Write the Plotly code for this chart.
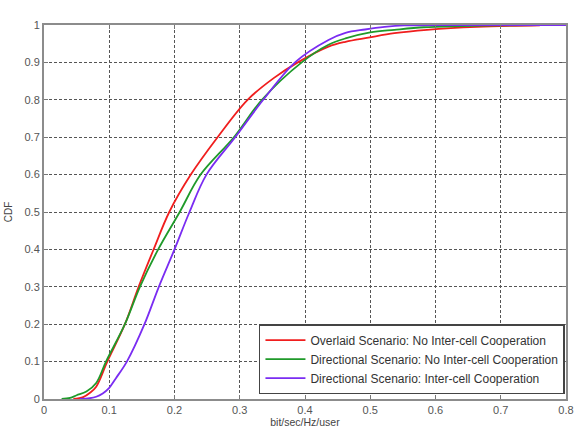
import plotly.graph_objects as go

# Overlaid Scenario: No Inter-cell Cooperation
red_x = [0.045, 0.06, 0.07, 0.08, 0.097, 0.124, 0.145, 0.168, 0.192, 0.225, 0.266,
         0.312, 0.352, 0.389, 0.436, 0.462, 0.497, 0.537, 0.587, 0.663, 0.76]
red_y = [0.0, 0.005, 0.016, 0.033, 0.1, 0.2, 0.3, 0.4, 0.5, 0.6, 0.7,
         0.8, 0.858, 0.9, 0.942, 0.955, 0.966, 0.978, 0.987, 0.995, 0.999]

# Directional Scenario: No Inter-cell Cooperation
green_x = [0.027, 0.04, 0.05, 0.065, 0.08, 0.095, 0.124, 0.147, 0.175, 0.208, 0.240,
           0.291, 0.334, 0.395, 0.436, 0.462, 0.5, 0.537, 0.582, 0.642, 0.7, 0.76]
green_y = [0.0, 0.003, 0.01, 0.02, 0.043, 0.1, 0.2, 0.3, 0.4, 0.5, 0.6,
           0.7, 0.8, 0.9, 0.947, 0.964, 0.98, 0.987, 0.994, 0.997, 0.999, 1.0]

# Directional Scenario: Inter-cell Cooperation
purple_x = [0.055, 0.07, 0.08, 0.09, 0.1, 0.11, 0.127, 0.154, 0.176, 0.2, 0.223,
            0.249, 0.293, 0.336, 0.386, 0.436, 0.462, 0.492, 0.522, 0.552, 0.65, 0.8]
purple_y = [0.0, 0.002, 0.006, 0.015, 0.03, 0.055, 0.1, 0.2, 0.3, 0.4, 0.5,
            0.6, 0.7, 0.8, 0.902, 0.96, 0.979, 0.988, 0.995, 0.999, 1.0, 1.0]

series_names = ["Overlaid Scenario: No Inter-cell Cooperation",
                "Directional Scenario: No Inter-cell Cooperation",
                "Directional Scenario: Inter-cell Cooperation"]
series_colors = ["#f01e1e", "#1f9a2a", "#7a2cf2"]

x_ticks = [0, 0.1, 0.2, 0.3, 0.4, 0.5, 0.6, 0.7, 0.8]
x_tick_text = ["0", "0.1", "0.2", "0.3", "0.4", "0.5", "0.6", "0.7", "0.8"]
y_ticks = [0, 0.1, 0.2, 0.3, 0.4, 0.5, 0.6, 0.7, 0.8, 0.9, 1.0]
y_tick_text = ["0", "0.1", "0.2", "0.3", "0.4", "0.5", "0.6", "0.7", "0.8", "0.9", "1"]

fig = go.Figure()
for xs, ys, name, color in zip([red_x, green_x, purple_x], [red_y, green_y, purple_y],
                               series_names, series_colors):
    fig.add_trace(go.Scatter(x=xs, y=ys, mode="lines", name=name,
                             line=dict(color=color, width=1.8, shape="spline", smoothing=1.0)))

font_family = "Liberation Sans, Arial, sans-serif"
axis_common = dict(
    showline=True, linecolor="#8c8c8c", linewidth=2, mirror="ticks",
    ticks="inside", ticklen=4, tickcolor="#777", tickwidth=1,
    showgrid=True, gridcolor="#555", gridwidth=1, griddash="3px,2px",
    zeroline=False, tickfont=dict(family=font_family, size=11, color="#555"),
)

fig.update_layout(
    width=581, height=441,
    margin=dict(l=44, r=7, t=25, b=42),
    paper_bgcolor="white", plot_bgcolor="white",
    font=dict(family=font_family, color="#444"),
    xaxis=dict(range=[0, 0.8], tickvals=x_ticks, ticktext=x_tick_text,
               title=dict(text="bit/sec/Hz/user", font=dict(size=10.5, color="#444"), standoff=2),
               **axis_common),
    yaxis=dict(range=[0, 1], tickvals=y_ticks, ticktext=y_tick_text,
               title=dict(text="CDF", font=dict(size=10, color="#444"), standoff=10),
               **axis_common),
    legend=dict(x=0.998, xanchor="right", y=0.013, yanchor="bottom",
                bgcolor="white", bordercolor="#444", borderwidth=1.5,
                font=dict(family=font_family, size=12, color="#333"),
                tracegroupgap=0, itemwidth=40),
    showlegend=True,
)

fig.write_html("out.html")
